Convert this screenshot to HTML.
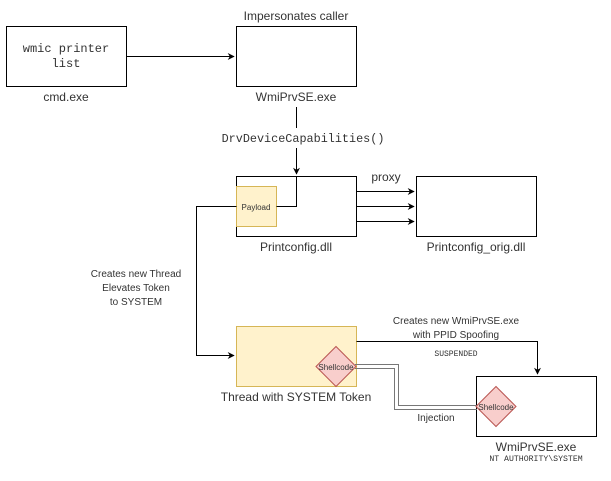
<!DOCTYPE html>
<html><head><meta charset="utf-8"><style>
html,body{margin:0;padding:0;background:#fff;}
svg{display:block;}
.s{font-family:"Liberation Sans",sans-serif;fill:#333;}
.m{font-family:"Liberation Mono",monospace;fill:#333;}
</style></head><body>
<svg width="611" height="481" viewBox="0 0 611 481" xmlns="http://www.w3.org/2000/svg">
<defs><marker id="a" viewBox="0 0 10 10" refX="9" refY="5" markerWidth="7" markerHeight="7" orient="auto" markerUnits="userSpaceOnUse"><path d="M0,0 L10,5 L0,10 L3,5 z" fill="#000"/></marker></defs>
<g fill="#fff" stroke="#000" stroke-width="1">
<rect x="6.5" y="26.5" width="120" height="60"/>
<rect x="236.5" y="26.5" width="120" height="60"/>
<rect x="236.5" y="176.5" width="120" height="60"/>
<rect x="416.5" y="176.5" width="120" height="60"/>
<rect x="476.5" y="376.5" width="120" height="60"/>
</g>
<rect x="236.5" y="186.5" width="40" height="40" fill="#fff2cc" stroke="#d6b656"/>
<rect x="236.5" y="326.5" width="120" height="60" fill="#fff2cc" stroke="#d6b656"/>
<g fill="none" stroke="#000" stroke-width="1">
<path d="M126.5 56.5 H234" marker-end="url(#a)"/>
<path d="M296.5 107 V128 M296.5 148 V174" marker-end="url(#a)"/>
<path d="M276.5 206.5 H296.5 V176.5"/>
<path d="M356.5 191.5 H414" marker-end="url(#a)"/>
<path d="M356.5 206.5 H414" marker-end="url(#a)"/>
<path d="M356.5 221.5 H414" marker-end="url(#a)"/>
<path d="M236.5 206.5 H196.5 V355.5 H234" marker-end="url(#a)"/>
<path d="M356.5 341.5 H537.5 V374" marker-end="url(#a)"/>
</g>
<g fill="none" stroke="#777" stroke-width="1">
<path d="M355 364.5 H398.5 V405.5 H477"/>
<path d="M355 368.5 H394.5 V409.5 H477"/>
</g>
<path d="M336 346.5 L356 366.5 L336 386.5 L316 366.5 Z" fill="#f8cecc" stroke="#b85450"/>
<path d="M496 386.5 L516 406.5 L496 426.5 L476 406.5 Z" fill="#f8cecc" stroke="#b85450"/>
<text class="m" x="66" y="52" font-size="12" text-anchor="middle">wmic printer</text>
<text class="m" x="66" y="67" font-size="12" text-anchor="middle">list</text>
<text class="s" x="66" y="101" font-size="12" text-anchor="middle">cmd.exe</text>
<text class="s" x="296" y="20" font-size="12" text-anchor="middle">Impersonates caller</text>
<text class="s" x="296" y="101" font-size="12" text-anchor="middle">WmiPrvSE.exe</text>
<text class="m" x="303" y="142" font-size="11.8" text-anchor="middle">DrvDeviceCapabilities()</text>
<text class="s" x="256" y="210" font-size="8" text-anchor="middle">Payload</text>
<text class="s" x="386" y="181" font-size="12" text-anchor="middle">proxy</text>
<text class="s" x="296" y="251" font-size="12" text-anchor="middle">Printconfig.dll</text>
<text class="s" x="476" y="251" font-size="12" text-anchor="middle">Printconfig_orig.dll</text>
<text class="s" x="136" y="277" font-size="10" text-anchor="middle">Creates new Thread</text>
<text class="s" x="136" y="291" font-size="10" text-anchor="middle">Elevates Token</text>
<text class="s" x="136" y="305" font-size="10" text-anchor="middle">to SYSTEM</text>
<text class="s" x="296" y="401" font-size="12" text-anchor="middle">Thread with SYSTEM Token</text>
<text class="s" x="456" y="324" font-size="10" text-anchor="middle">Creates new WmiPrvSE.exe</text>
<text class="s" x="456" y="338" font-size="10" text-anchor="middle">with PPID Spoofing</text>
<text class="m" x="456" y="356" font-size="8" text-anchor="middle">SUSPENDED</text>
<text class="s" x="336" y="370" font-size="8" text-anchor="middle">Shellcode</text>
<text class="s" x="496" y="410" font-size="8" text-anchor="middle">Shellcode</text>
<text class="s" x="436" y="421" font-size="10" text-anchor="middle">Injection</text>
<text class="s" x="536" y="451" font-size="12" text-anchor="middle">WmiPrvSE.exe</text>
<text class="m" x="536" y="461" font-size="8.2" text-anchor="middle">NT AUTHORITY\SYSTEM</text>
</svg>
</body></html>
